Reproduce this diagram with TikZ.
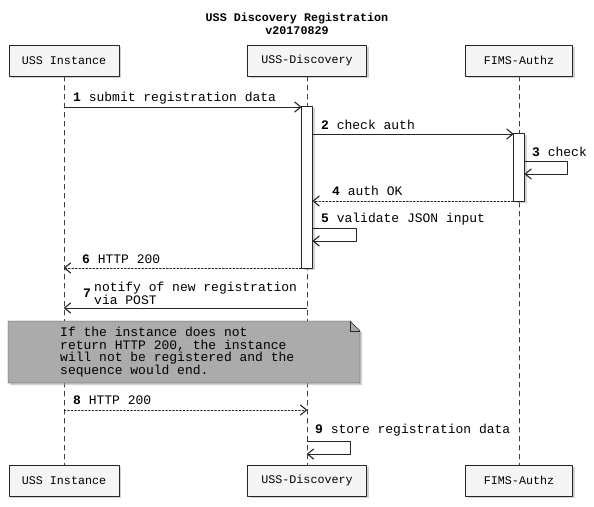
\documentclass[tikz,border=0pt]{standalone}
\usepackage{fontspec}
\setmonofont{Liberation Mono}
\usetikzlibrary{arrows.meta,shadows,positioning}
\tikzset{
  part/.style={draw=black!85, fill=black!4, minimum height=31pt, inner sep=0pt,
    font=\ttfamily\fontsize{11.7}{14}\selectfont,
    drop shadow={shadow xshift=2pt, shadow yshift=-2pt, fill=black!35}},
  actbar/.style={draw=black!85, fill=white, minimum width=11pt, inner sep=0pt,
    drop shadow={shadow xshift=2pt, shadow yshift=-2pt, fill=black!35}},
  life/.style={draw=black!75, dash pattern=on 5pt off 4pt},
  msg/.style={->, draw=black!85},
  ret/.style={->, draw=black!85, dash pattern=on 2pt off 1.5pt},
  lbl/.style={anchor=base west, inner sep=0pt}
}
\newcommand{\num}[1]{\textbf{#1}}
\begin{document}
\begin{tikzpicture}[x=1pt, y=-1pt, font=\ttfamily\fontsize{13}{12.5}\selectfont,
  line join=round, line cap=round,
  >={Straight Barb[length=6pt,width=10pt,line width=1.1pt,round]}]
\useasboundingbox (0,0) rectangle (594,506);
% title
\node[font=\ttfamily\bfseries\fontsize{11.7}{13}\selectfont, align=center] (title) at (297,23.5)
  {USS Discovery Registration\\v20170829};
% participants, top and bottom
\foreach \n/\x/\w/\t in {inst/64/110/USS Instance, disc/307/119/USS-Discovery, fims/519/107/FIMS-Authz}{
  \node[part, minimum width=\w pt] (\n) at (\x,60.5) {\t};
  \node[part, minimum width=\w pt] (\n B) at (\x,480.5) {\t};
  \draw[life] (\n.south) -- (\n B.north);
}
% activations
\node[actbar, minimum height=162pt] (act1) at (disc |- 0,187) {};
\node[actbar, minimum height=68pt] (act2) at (fims |- 0,167) {};
% 1
\draw[msg] (inst |- 0,107) -- (act1.west |- 0,107);
\node[lbl] at (73,101) {\num{1} submit registration data};
% 2
\draw[msg] (act1.east |- 0,134) -- (act2.west |- 0,134);
\node[lbl] at (321,129) {\num{2} check auth};
% 3
\draw[msg] (act2.east |- 0,161) -- ++(42,0) -- ++(0,13) -- (act2.east |- 0,174);
\node[lbl] at (532,156) {\num{3} check};
% 4
\draw[ret] (act2.west |- 0,201) -- (act1.east |- 0,201);
\node[lbl] at (332,195) {\num{4} auth OK};
% 5
\draw[msg] (act1.east |- 0,228) -- ++(43,0) -- ++(0,13) -- (act1.east |- 0,241);
\node[lbl] at (321,222) {\num{5} validate JSON input};
% 6
\draw[ret] (act1.west |- 0,268) -- (inst |- 0,268);
\node[lbl] at (82,263) {\num{6} HTTP 200};
% 7
\draw[msg] (disc |- 0,308) -- (inst |- 0,308);
\node[anchor=north west, inner sep=0pt, align=left] (m7) at (94,282)
  {notify of new registration\\via POST};
\node[anchor=east, inner sep=0pt] at ([xshift=-3pt]m7.west) {\num{7}};
% note
\filldraw[draw=black!85, fill=black!33,
  drop shadow={shadow xshift=2pt, shadow yshift=-2pt, fill=black!35}]
  (8,321) -- (350,321) -- (360,331) -- (360,383) -- (8,383) -- cycle;
\draw[black!85] (350,321) -- (350,331) -- (360,331);
\node[anchor=north west, inner sep=0pt, align=left] (note) at (60,327)
  {If the instance does not\\return HTTP 200, the instance\\will not be registered and the\\sequence would end.};
% 8
\draw[ret] (inst |- 0,410) -- (disc |- 0,410);
\node[lbl] at (73,404) {\num{8} HTTP 200};
% 9
\draw[msg] (disc |- 0,441) -- ++(43,0) -- ++(0,13) -- (disc |- 0,454);
\node[lbl] at (315,433) {\num{9} store registration data};
\end{tikzpicture}
\end{document}
